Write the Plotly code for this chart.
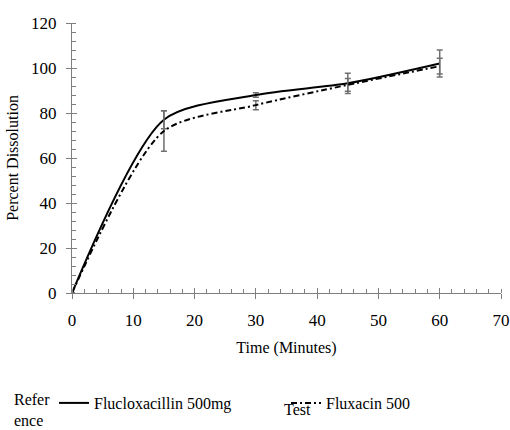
import plotly.graph_objects as go

time_min = [0, 15, 30, 45, 60]
ref_values = [0, 77, 88, 93.2, 102]
ref_err = [0, 4, 1, 4.5, 6]
test_values = [0, 72, 83.5, 92.5, 100.8]
test_err = [0, 9, 2, 2.8, 3.5]
ref_name = "Flucloxacillin 500mg"
test_name = "Fluxacin 500"

FONT = "Times New Roman"
AX = "#7f7f7f"
W, H = 510, 430
SMOOTH = 0.75

fig = go.Figure()
fig.add_trace(go.Scatter(
    x=time_min, y=ref_values, mode="lines", name=ref_name, legend="legend",
    line=dict(color="black", width=2, shape="spline", smoothing=SMOOTH),
    error_y=dict(type="data", array=ref_err, color="#707070", thickness=1.5, width=3),
))
fig.add_trace(go.Scatter(
    x=time_min, y=test_values, mode="lines", name=test_name, legend="legend2",
    line=dict(color="black", width=2, shape="spline", smoothing=SMOOTH, dash="6px,3px,2px,3px"),
    error_y=dict(type="data", array=test_err, color="#707070", thickness=1.5, width=3),
))

leg_common = dict(
    orientation="h", xref="container", yref="container",
    xanchor="left", yanchor="middle",
    font=dict(family=FONT, size=16, color="black"), bgcolor="rgba(0,0,0,0)",
    itemclick=False, itemdoubleclick=False,
)

fig.update_layout(
    template="none",
    width=W, height=H,
    margin=dict(l=72, r=9, t=23, b=H - 293, autoexpand=False),
    paper_bgcolor="white", plot_bgcolor="white",
    font=dict(family=FONT, size=16, color="black"),
    showlegend=True,
    legend=dict(x=54 / W, y=1 - 403 / H, **leg_common),
    legend2=dict(x=286 / W, y=1 - 403 / H, **leg_common),
    xaxis=dict(
        range=[0, 70], dtick=10, tick0=0, showgrid=False, zeroline=False,
        showline=True, linecolor=AX, linewidth=1,
        ticks="outside", ticklen=5, tickcolor=AX, ticklabelstandoff=7,
        tickfont=dict(family=FONT, size=17, color="black"),
        minor=dict(dtick=2, ticks="inside", ticklen=4, tickcolor=AX, showgrid=False),
        title=dict(text="Time (Minutes)", standoff=12, font=dict(family=FONT, size=16)),
        fixedrange=True,
    ),
    yaxis=dict(
        range=[0, 120], dtick=20, tick0=0, showgrid=False, zeroline=False,
        showline=True, linecolor=AX, linewidth=1,
        ticks="outside", ticklen=5, tickcolor=AX, ticklabelstandoff=6,
        tickfont=dict(family=FONT, size=17, color="black"),
        minor=dict(dtick=4, ticks="inside", ticklen=4, tickcolor=AX, showgrid=False),
        title=dict(text="Percent Dissolution", standoff=8, font=dict(family=FONT, size=16)),
        fixedrange=True,
    ),
    xaxis2=dict(
        overlaying="x", range=[0, 70], dtick=10, tick0=0,
        ticks="inside", ticklen=5, tickcolor=AX, showticklabels=False, showline=False,
        showgrid=False, zeroline=False, side="bottom", anchor="y", fixedrange=True,
    ),
    yaxis2=dict(
        overlaying="y", range=[0, 120], dtick=20, tick0=0,
        ticks="inside", ticklen=5, tickcolor=AX, showticklabels=False, showline=False,
        showgrid=False, zeroline=False, side="left", anchor="x", fixedrange=True,
    ),
)
fig.add_trace(go.Scatter(x=[0], y=[0], xaxis="x2", yaxis="y2", mode="markers",
                         marker=dict(opacity=0), showlegend=False, hoverinfo="skip"))

fig.add_annotation(text="Refer<br>ence", xref="paper", yref="paper",
                   x=(12 - 72) / 429, y=1 - (389 - 23) / 270, xanchor="left", yanchor="top",
                   align="left", showarrow=False, font=dict(family=FONT, size=16))
fig.add_annotation(text="Test", xref="paper", yref="paper",
                   x=(282 - 72) / 429, y=1 - (409 - 23) / 270, xanchor="left", yanchor="middle",
                   showarrow=False, font=dict(family=FONT, size=16))

fig.write_html(
    "out.html",
    config=dict(displayModeBar=False, staticPlot=True),
    post_script="document.body.style.margin='0';document.body.style.overflow='hidden';",
)
